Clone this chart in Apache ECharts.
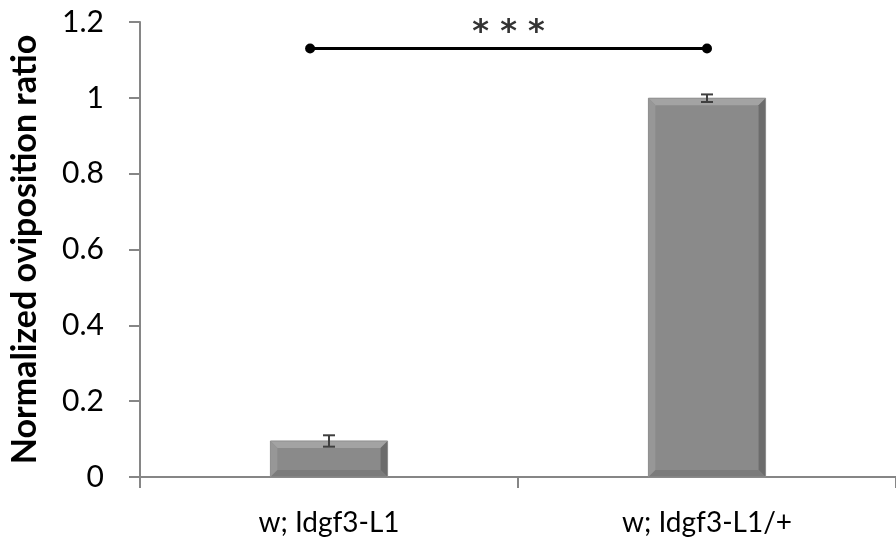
<!DOCTYPE html>
<html><head><meta charset="utf-8">
<script src="https://cdn.jsdelivr.net/npm/echarts@6/dist/echarts.min.js"></script>
<style>html,body{margin:0;padding:0;background:#fff}#c{width:896px;height:552px}</style>
</head><body><div id="c"></div>
<script>
var categories = ['w; Idgf3-L1', 'w; Idgf3-L1/+'];
var values = [0.095, 0.999];
var errors = [0.015, 0.01];
var yTicks = { min: 0, max: 1.2, interval: 0.2 };
var sigFrom = -0.05, sigTo = 1.0, sigY = 1.13, sigText = '* * *';

var FONT = 'Lato';
var chart = echarts.init(document.getElementById('c'));

function bevelBar(params, api) {
  var i = params.dataIndex;
  var top = api.coord([i, api.value(1)]);
  var base = api.coord([i, 0]);
  var bw = api.size([1, 0])[0] * 0.31;
  var x0 = top[0] - bw / 2, x1 = top[0] + bw / 2, y0 = top[1], y1 = base[1];
  var b = 7;
  var h = y1 - y0;
  var bb = Math.min(b, h / 2);
  return {
    type: 'group',
    children: [
      { type: 'rect', shape: { x: x0, y: y0, width: bw, height: h }, style: { fill: '#8a8a8a' } },
      { type: 'polygon', shape: { points: [[x0, y0], [x1, y0], [x1 - bb, y0 + bb], [x0 + bb, y0 + bb]] }, style: { fill: '#a3a3a3' } },
      { type: 'polygon', shape: { points: [[x0, y0], [x0 + bb, y0 + bb], [x0 + bb, y1 - bb], [x0, y1]] }, style: { fill: '#979797' } },
      { type: 'polygon', shape: { points: [[x1, y0], [x1, y1], [x1 - bb, y1 - bb], [x1 - bb, y0 + bb]] }, style: { fill: '#6c6c6c' } },
      { type: 'polygon', shape: { points: [[x0, y1], [x0 + bb, y1 - bb], [x1 - bb, y1 - bb], [x1, y1]] }, style: { fill: '#7b7b7b' } },
      { type: 'rect', shape: { x: x0, y: y0, width: bw, height: h }, style: { fill: 'none', stroke: '#8f8f8f', lineWidth: 1 } }
    ]
  };
}

function errBar(params, api) {
  var i = params.dataIndex;
  var v = api.value(1), e = api.value(2);
  var hi = api.coord([i, v + e]);
  var lo = api.coord([i, v - e]);
  var cap = 6;
  var st = { stroke: '#3f3f3f', lineWidth: 2 };
  return {
    type: 'group',
    children: [
      { type: 'line', shape: { x1: hi[0], y1: hi[1], x2: lo[0], y2: lo[1] }, style: st },
      { type: 'line', shape: { x1: hi[0] - cap, y1: hi[1], x2: hi[0] + cap, y2: hi[1] }, style: st },
      { type: 'line', shape: { x1: lo[0] - cap, y1: lo[1], x2: lo[0] + cap, y2: lo[1] }, style: st }
    ]
  };
}

chart.setOption({
  animation: false,
  grid: { left: 136, right: -4, top: 22, bottom: 75, containLabel: false },
  xAxis: [{
    type: 'category',
    data: categories,
    axisLine: { lineStyle: { color: '#868686', width: 2 } },
    axisTick: { show: true, length: 11, lineStyle: { color: '#868686', width: 2 } },
    axisLabel: { color: '#000', fontFamily: FONT, fontSize: 28, margin: 32 }
  }, {
    type: 'value', min: -0.5, max: 1.5, show: false
  }],
  yAxis: {
    type: 'value',
    min: yTicks.min, max: yTicks.max, interval: yTicks.interval,
    name: 'Normalized oviposition ratio',
    nameLocation: 'middle',
    nameGap: 98,
    nameTextStyle: { color: '#000', fontFamily: FONT, fontSize: 34, fontWeight: 'bold' },
    axisLine: { show: true, onZero: false, lineStyle: { color: '#868686', width: 2 } },
    axisTick: { show: true, length: 11, lineStyle: { color: '#868686', width: 2 } },
    splitLine: { show: false },
    axisLabel: { color: '#000', fontFamily: FONT, fontSize: 30, margin: 36,
      formatter: function (v) { return String(Math.round(v * 10) / 10); } }
  },
  series: [{
    type: 'custom',
    renderItem: bevelBar,
    data: values.map(function (v, i) { return [i, v]; }),
    encode: { x: 0, y: 1 }
  }, {
    type: 'custom',
    renderItem: errBar,
    data: values.map(function (v, i) { return [i, v, errors[i]]; }),
    encode: { x: 0, y: 1 }, z: 5
  }, {
    type: 'line',
    xAxisIndex: 1,
    data: [[sigFrom, sigY], [sigTo, sigY]],
    lineStyle: { color: '#000', width: 3 },
    symbol: 'circle', symbolSize: 10,
    itemStyle: { color: '#000' }
  }, {
    type: 'scatter',
    xAxisIndex: 1,
    data: [[(sigFrom + sigTo) / 2, sigY]],
    symbolSize: 0,
    label: { show: true, position: 'top', distance: 0, formatter: sigText,
      color: '#000', fontFamily: 'DejaVu Sans', fontSize: 32, fontWeight: 'bold' }
  }]
});
</script></body></html>
